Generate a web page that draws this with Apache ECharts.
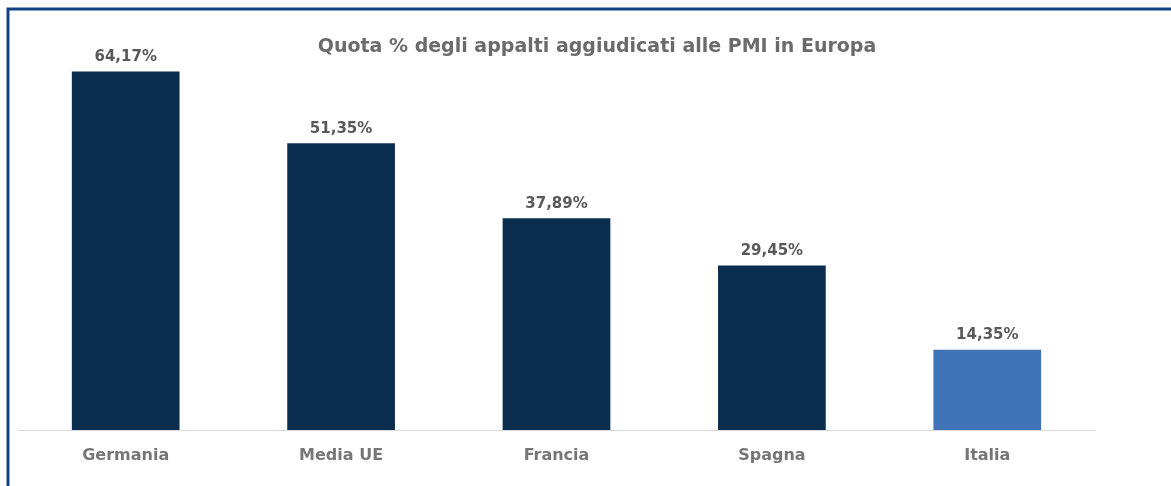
<!DOCTYPE html>
<html>
<head>
<meta charset="utf-8">
<script src="https://cdn.jsdelivr.net/npm/echarts@6/dist/echarts.min.js"></script>
<style>
    html, body { margin: 0; padding: 0; background: #fff; }
    #chart { width: 1171px; height: 486px; }
</style>
</head>
<body>
<div id="chart"></div>
<script>
// dati del grafico
var categorie = ['Germania', 'Media UE', 'Francia', 'Spagna', 'Italia'];
var quote = [64.17, 51.35, 37.89, 29.45, 14.35];
var coloriBarre = ['#0b2e4f', '#0b2e4f', '#0b2e4f', '#0b2e4f', '#4072b8'];

var myChart = echarts.init(document.getElementById('chart'));

var option = {
    animation: false,
    title: {
        text: 'Quota % degli appalti aggiudicati alle PMI in Europa',
        left: 592,
        textAlign: 'center',
        top: 33,
        textStyle: {
            fontFamily: 'DejaVu Sans',
            fontSize: 19,
            fontWeight: 'bold',
            color: '#6b6b6b'
        }
    },
    // cornice blu (solo lati superiore e sinistro visibili)
    graphic: [{
        type: 'polyline',
        shape: { points: [[8, 500], [8, 9], [1180, 9]] },
        style: { stroke: '#124286', lineWidth: 3, fill: null },
        silent: true
    }],
    grid: {
        left: 18,
        right: 76,
        top: 39,
        bottom: 56
    },
    xAxis: {
        type: 'category',
        data: categorie,
        axisLine: { lineStyle: { color: '#d9d9d9', width: 1 } },
        axisTick: { show: false },
        axisLabel: {
            margin: 18,
            fontFamily: 'DejaVu Sans',
            fontSize: 16,
            fontWeight: 'bold',
            color: '#767676'
        }
    },
    yAxis: {
        type: 'value',
        min: 0,
        max: 70,
        show: false,
        splitLine: { show: false }
    },
    series: [{
        type: 'bar',
        barWidth: '50%',
        data: quote.map(function (v, i) {
            return { value: v, itemStyle: { color: coloriBarre[i] } };
        }),
        label: {
            show: true,
            position: 'top',
            distance: 7,
            fontFamily: 'DejaVu Sans',
            fontSize: 15,
            fontWeight: 'bold',
            color: '#595959',
            formatter: function (p) {
                return p.value.toFixed(2).replace('.', ',') + '%';
            }
        }
    }]
};

myChart.setOption(option);
</script>
</body>
</html>
